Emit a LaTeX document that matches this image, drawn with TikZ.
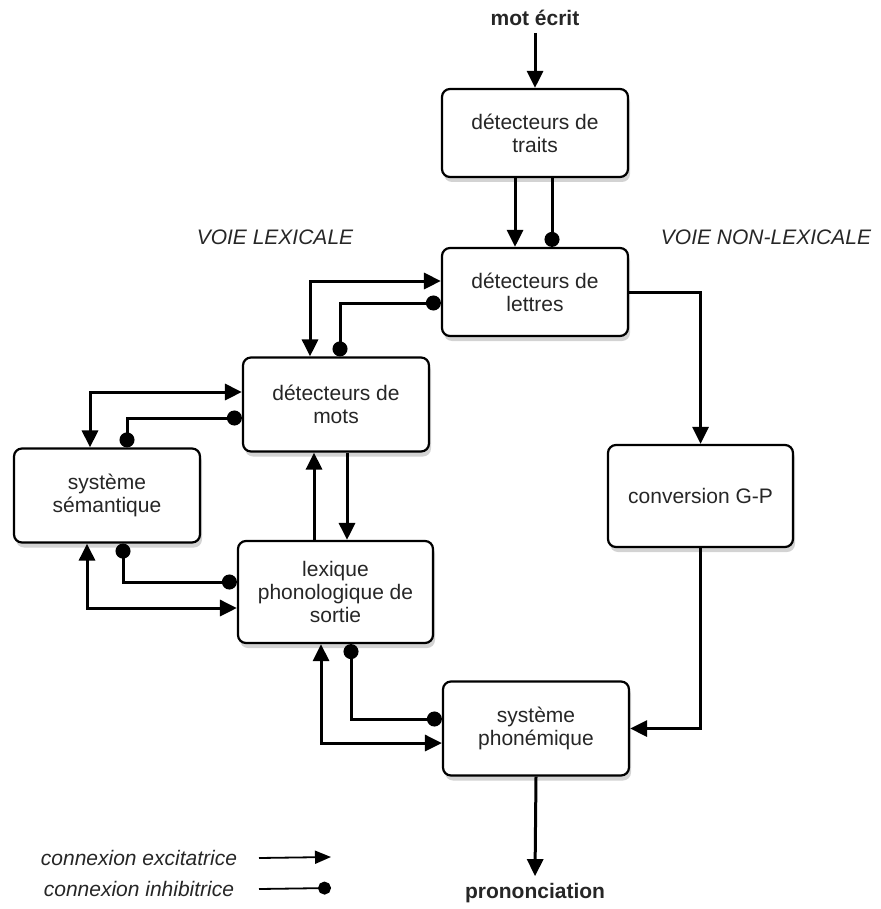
\documentclass[tikz,border=0pt]{standalone}
\usepackage{fontspec}
\setmainfont{Liberation Sans}
\usetikzlibrary{arrows.meta,shadows}
\begin{document}
\begin{tikzpicture}[x=0.5pt,y=-0.5pt,
  txt/.style={font=\fontsize{10.5}{11.5}\selectfont, text=black!85},
  box/.style={txt, draw, line width=1.1pt, rounded corners=4pt, fill=white,
    minimum width=93pt, minimum height=47pt, align=center, inner sep=2pt,
    drop shadow={shadow xshift=1pt, shadow yshift=-2.5pt, opacity=0.35}},
  conn/.style={line width=1.5pt},
  tri/.tip={Triangle[length=8.5pt,width=8pt]},
  dot/.tip={Circle[length=7.5pt]},
  exc/.style={conn, -tri},
  excb/.style={conn, tri-tri},
  inhb/.style={conn, dot-dot},
  inh/.style={conn, -dot},
]
\useasboundingbox (0,0) rectangle (880,909);

% boxes
\node[box, minimum height=44pt] (traits) at (535,133) {détecteurs de\\traits};
\node[box, minimum height=44pt] (lettres) at (535,292) {détecteurs de\\lettres};
\node[box] (mots) at (336,404.5) {détecteurs de\\mots};
\node[box] (sem) at (107,495.5) {système\\sémantique};
\node[box, minimum width=97.5pt, minimum height=51pt] (lex) at (335.5,592) {lexique\\phonologique de\\sortie};
\node[box, minimum width=92.5pt, minimum height=51pt] (conv) at (700.5,496) {conversion G-P};
\node[box] (phon) at (536,728.5) {système\\phonémique};

% free texts
\node[txt, font=\fontsize{10.5}{11.5}\selectfont\bfseries] (mot) at (535,18) {mot écrit};
\node[txt, font=\fontsize{10.5}{11.5}\selectfont\bfseries] (pron) at (535,893) {prononciation};
\node[txt, font=\fontsize{10.5}{11.5}\selectfont\itshape] (vl) at (275,237) {VOIE LEXICALE};
\node[txt, font=\fontsize{10.5}{11.5}\selectfont\itshape] (vnl) at (766,237) {VOIE NON-LEXICALE};
\node[txt, font=\fontsize{10.5}{11.5}\selectfont\itshape] (lexc) at (139,858) {connexion excitatrice};
\node[txt, font=\fontsize{10.5}{11.5}\selectfont\itshape] (linh) at (139,889) {connexion inhibitrice};

% connectors
\draw[exc] (mot.south) -- (traits.north);
\draw[exc] (traits.south -| 515,0) -- (lettres.north -| 515,0);
\draw[inh] (traits.south -| 552,0) -- (lettres.north -| 552,0);

\draw[excb] (lettres.west |- 0,281) -| (mots.north -| 310,0);
\draw[inhb] (lettres.west |- 0,303) -| (mots.north -| 340,0);

\draw[excb] (mots.west |- 0,392) -| (sem.north -| 90,0);
\draw[inhb] (mots.west |- 0,418) -| (sem.north -| 127,0);

\draw[exc] (lex.north -| 314,0) -- (mots.south -| 314,0);
\draw[exc] (mots.south -| 347,0) -- (lex.north -| 347,0);

\draw[inhb] (sem.south -| 123,0) |- (lex.west |- 0,582);
\draw[excb] (sem.south -| 87,0) |- (lex.west |- 0,608);

\draw[excb] (lex.south -| 321,0) |- (phon.west |- 0,743);
\draw[inhb] (lex.south -| 351,0) |- (phon.west |- 0,719);

\draw[exc] (lettres.east) -| (conv.north);
\draw[exc] (conv.south) |- (phon.east);
\draw[exc] (phon.south) -- (pron.north);

% legend
\coordinate (la1) at (259,858);
\coordinate (la2) at (331,857);
\coordinate (lb1) at (259,889);
\coordinate (lb2) at (331,888);
\draw[line width=0.9pt, -{Triangle[length=8pt,width=6.5pt]}] (la1) -- (la2);
\draw[line width=0.9pt, -{Circle[length=6.5pt]}] (lb1) -- (lb2);
\end{tikzpicture}
\end{document}
